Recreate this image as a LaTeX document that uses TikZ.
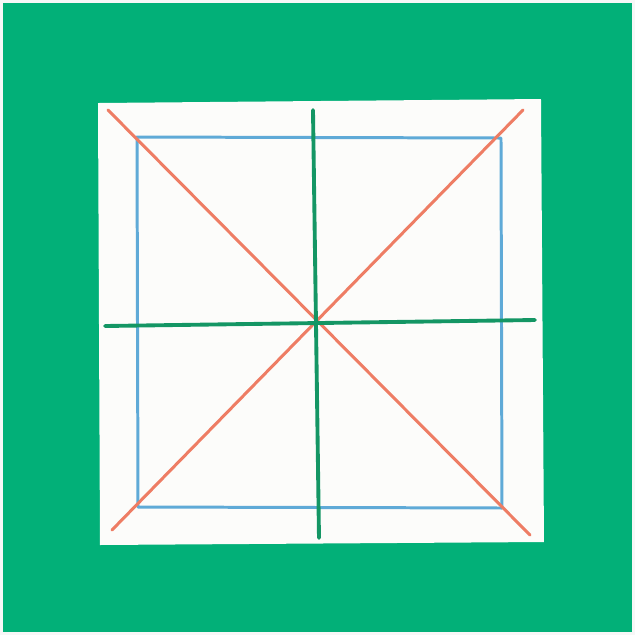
\documentclass[tikz,border=0pt]{standalone}
\definecolor{bggreen}{RGB}{2,176,120}
\definecolor{penblue}{RGB}{95,170,215}
\definecolor{penred}{RGB}{238,125,100}
\definecolor{pengreen}{RGB}{20,150,100}
\definecolor{paper}{RGB}{252,252,250}
\tikzset{
  bluepen/.style={draw=penblue,line width=0.85pt,line join=round},
  redpen/.style={draw=penred,line width=0.85pt,line cap=round},
  greenpen/.style={draw=pengreen,line width=1.1pt,line cap=round}
}
\begin{document}
\begin{tikzpicture}[x={(0.01cm,0)},y={(0,-0.01cm)}]
\useasboundingbox (0,0) rectangle (635,635);
\fill[white!94!gray] (0,0) rectangle (635,635);
\fill[bggreen] (3,3) rectangle (632,632);
% paper sheet
\fill[paper] (98,103) -- (541,99) -- (544,542) -- (100,545) -- cycle;
% corners
\coordinate (b1) at (137,137);
\coordinate (b2) at (501,138);
\coordinate (b3) at (502,508);
\coordinate (b4) at (138,507);
\coordinate (r1) at (108,110);
\coordinate (r2) at (530,535);
\coordinate (r3) at (523,110);
\coordinate (r4) at (112,530);
\coordinate (gt) at (313,110);
\coordinate (gb) at (319,538);
\coordinate (gl) at (105,326);
\coordinate (gr) at (535,320);
% blue square
\draw[bluepen] (b1) -- (b2) -- (b3) -- (b4) -- cycle;
% red diagonals
\draw[redpen] (r1) -- (r2);
\draw[redpen] (r3) -- (r4);
% green cross
\draw[greenpen] (gt) -- (gb);
\draw[greenpen] (gl) -- (gr);
\end{tikzpicture}
\end{document}
